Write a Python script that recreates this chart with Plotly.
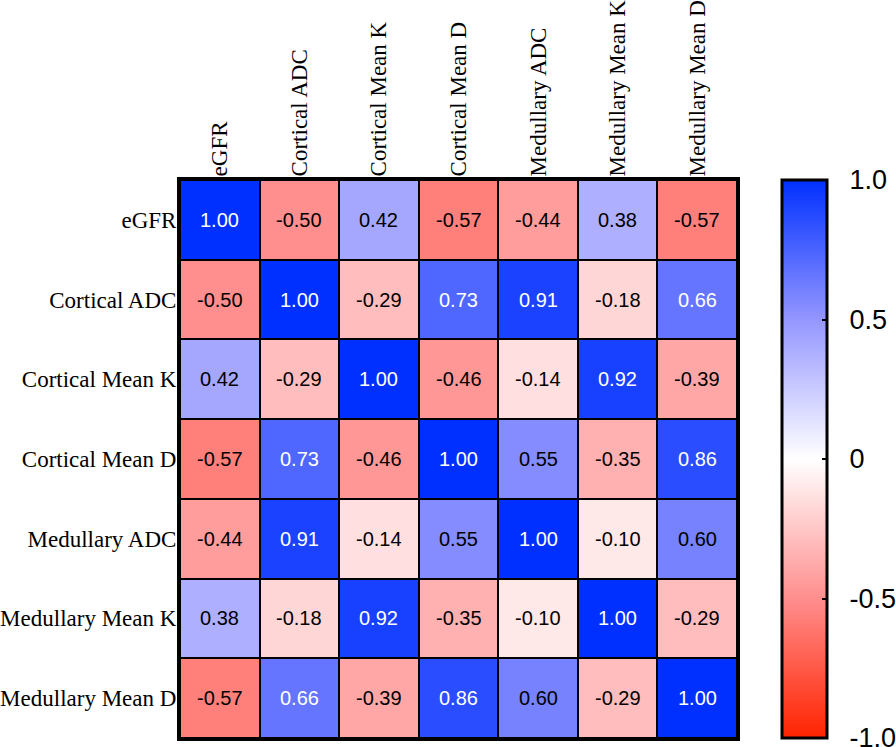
import plotly.graph_objects as go

labels = ["eGFR", "Cortical ADC", "Cortical Mean K", "Cortical Mean D",
          "Medullary ADC", "Medullary Mean K", "Medullary Mean D"]

corr = [
    [1.00, -0.50, 0.42, -0.57, -0.44, 0.38, -0.57],
    [-0.50, 1.00, -0.29, 0.73, 0.91, -0.18, 0.66],
    [0.42, -0.29, 1.00, -0.46, -0.14, 0.92, -0.39],
    [-0.57, 0.73, -0.46, 1.00, 0.55, -0.35, 0.86],
    [-0.44, 0.91, -0.14, 0.55, 1.00, -0.10, 0.60],
    [0.38, -0.18, 0.92, -0.35, -0.10, 1.00, -0.29],
    [-0.57, 0.66, -0.39, 0.86, 0.60, -0.29, 1.00],
]

cbar_vals = [1.0, 0.5, 0, -0.5, -1.0]
cbar_text = ["1.0", "0.5", "0", "-0.5", "-1.0"]

# red -> white -> blue, slightly bent like the Prism palette
colorscale = [
    [0.0, "rgb(255,35,0)"],
    [0.25, "rgb(255,142,142)"],
    [0.5, "rgb(255,255,255)"],
    [0.75, "rgb(148,150,255)"],
    [1.0, "rgb(0,48,255)"],
]

fig = go.Figure()

fig.add_trace(go.Heatmap(
    z=corr, x=labels, y=labels,
    zmin=-1, zmax=1,
    colorscale=colorscale,
    xgap=2, ygap=2,
    hoverinfo="skip",
    colorbar=dict(
        x=(782 - 180) / 557, xanchor="left", xpad=0,
        y=0.5, yanchor="middle", len=1, ypad=0,
        thickness=45,
        outlinewidth=3, outlinecolor="black",
        tickvals=cbar_vals, ticktext=["\u00a0\u00a0" + t for t in cbar_text],
        ticks="inside", ticklen=6, tickwidth=2, tickcolor="black",
        ticklabeloverflow="allow",
        tickfont=dict(family="Liberation Sans, Arial", size=27, color="black"),
    ),
))

# cell value labels
for i, row_name in enumerate(labels):
    for j, col_name in enumerate(labels):
        v = corr[i][j]
        fig.add_annotation(
            x=col_name, y=row_name, text=f"{v:.2f}", showarrow=False,
            font=dict(family="Liberation Sans, Arial", size=20,
                      color="white" if v >= 0.65 else "black"),
        )

fig.update_layout(
    width=896, height=747,
    margin=dict(l=180, r=159, t=180, b=9, autoexpand=False),
    paper_bgcolor="white",
    plot_bgcolor="black",
    showlegend=False,
)

fig.update_xaxes(
    side="top", tickangle=-90, showgrid=False, zeroline=False,
    showline=True, mirror=True, linewidth=3, linecolor="black",
    ticks="", ticklabelstandoff=-4, automargin=False,
    tickfont=dict(family="Liberation Serif, Times New Roman", size=23, color="black"),
)
fig.update_yaxes(
    autorange="reversed", showgrid=False, zeroline=False,
    showline=True, mirror=True, linewidth=3, linecolor="black",
    ticks="", ticklabelstandoff=-4, automargin=False,
    tickfont=dict(family="Liberation Serif, Times New Roman", size=23, color="black"),
)

# drop the browser's default 8px body margin so the figure fills the window
fig.write_html("out.html", config={"displayModeBar": False},
               post_script="document.body.style.margin='0';")
